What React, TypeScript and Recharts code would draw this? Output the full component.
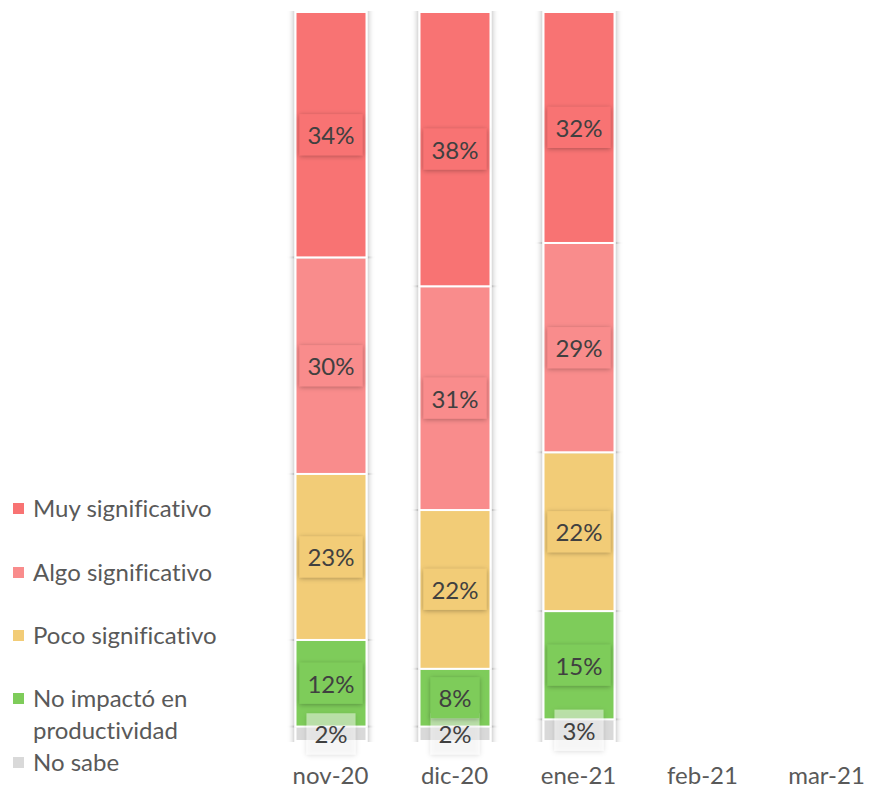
import { BarChart, Bar, XAxis, YAxis, LabelList } from 'recharts'

const months = ['nov-20', 'dic-20', 'ene-21', 'feb-21', 'mar-21']
const muySignificativo = [34, 38, 32, null, null]
const algoSignificativo = [30, 31, 29, null, null]
const pocoSignificativo = [23, 22, 22, null, null]
const noImpacto = [12, 8, 15, null, null]
const noSabe = [2, 2, 3, null, null]

const FONT = 'Lato, "Open Sans", sans-serif'
const TEXT = '#595959'
const FS = 24

const series = [
  { key: 'noSabe', name: 'No sabe', color: '#D9D9D9', labelFill: 'rgba(255,255,255,0.45)' },
  { key: 'noImpacto', name: 'No impactó en productividad', color: '#7ECC5A' },
  { key: 'poco', name: 'Poco significativo', color: '#F2CC77' },
  { key: 'algo', name: 'Algo significativo', color: '#F98C8C' },
  { key: 'muy', name: 'Muy significativo', color: '#F87373' },
]

const data = months.map((month, i) => ({
  month,
  muy: muySignificativo[i],
  algo: algoSignificativo[i],
  poco: pocoSignificativo[i],
  noImpacto: noImpacto[i],
  noSabe: noSabe[i],
}))

function Segment(props: any) {
  const { x, y, width, height, fill } = props
  if (!height || height <= 0) return null
  return (
    <rect
      x={x}
      y={y}
      width={width}
      height={height}
      fill={fill}
      stroke="#fff"
      strokeWidth={2}
      filter="url(#sideShadow)"
    />
  )
}

function makeLabel(fill: string) {
  return function BoxLabel(props: any) {
    const { x, y, width, height, value } = props
    if (value == null) return null
    const text = `${value}%`
    const w = 14 * text.length + 21
    const h = 41
    const cx = x + width / 2
    const cy = y + height / 2
    return (
      <g>
        <rect x={cx - w / 2} y={cy - h / 2} width={w} height={h} fill={fill} filter="url(#boxShadow)" />
        <text
          x={cx}
          y={cy}
          textAnchor="middle"
          dominantBaseline="central"
          fill="#404040"
          fontSize={FS}
          fontFamily={FONT}
        >
          {text}
        </text>
      </g>
    )
  }
}

function MonthTick({ x, y, payload }: any) {
  return (
    <text x={x} y={y + 25} textAnchor="middle" dominantBaseline="central" fill={TEXT} fontSize={FS} fontFamily={FONT}>
      {payload.value}
    </text>
  )
}

const legendRows = [
  { name: 'Muy significativo', color: '#F87373', top: 0 },
  { name: 'Algo significativo', color: '#F98C8C', top: 64 },
  { name: 'Poco significativo', color: '#F2CC77', top: 127 },
  { name: 'No impactó en productividad', color: '#7ECC5A', top: 190 },
  { name: 'No sabe', color: '#D9D9D9', top: 254 },
]

function SideLegend() {
  return (
    <div
      style={{
        position: 'absolute',
        left: 0,
        top: 492,
        width: 260,
        height: 290,
        fontFamily: FONT,
        color: TEXT,
        fontSize: FS,
        fontVariantLigatures: 'none',
      }}
    >
      {legendRows.map((r) => (
        <div key={r.name} style={{ position: 'absolute', left: 0, top: r.top, display: 'flex', alignItems: 'flex-start' }}>
          <span style={{ width: 11, height: 11, background: r.color, marginTop: 11, marginLeft: 13, marginRight: 9, flex: 'none' }} />
          <span style={{ lineHeight: '32px', width: 200 }}>{r.name}</span>
        </div>
      ))}
    </div>
  )
}

export default function App() {
  return (
    <div style={{ position: 'absolute', left: 0, top: 0, width: 870, height: 788, overflow: 'hidden', background: '#fff' }}>
      <BarChart
        width={900}
        height={788}
        data={data}
        margin={{ top: 12, right: 11.5, left: 268.5, bottom: 0 }}
        barSize={71}
      >
        <defs>
          <filter id="sideShadow" x="-20%" y="-5%" width="140%" height="110%">
            <feDropShadow dx="0" dy="0" stdDeviation="3 0" floodColor="#000" floodOpacity="0.35" />
          </filter>
          <filter id="boxShadow" x="-30%" y="-30%" width="160%" height="160%">
            <feDropShadow dx="0" dy="1" stdDeviation="2.5" floodColor="#000" floodOpacity="0.3" />
          </filter>
        </defs>
        <XAxis dataKey="month" axisLine={false} tickLine={false} height={47} tick={<MonthTick />} interval={0} />
        <YAxis hide domain={[0, 101]} />
        {series.map((s) => (
          <Bar
            key={s.key}
            dataKey={s.key}
            name={s.name}
            stackId="a"
            fill={s.color}
            shape={<Segment />}
            isAnimationActive={false}
          >
            <LabelList dataKey={s.key} content={makeLabel(s.labelFill ?? s.color)} />
          </Bar>
        ))}
      </BarChart>
      <SideLegend />
    </div>
  )
}
